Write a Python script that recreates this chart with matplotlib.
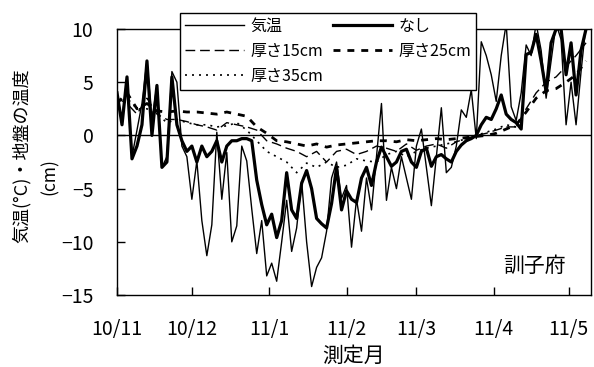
import matplotlib

matplotlib.use("Agg")
import matplotlib.pyplot as plt
import numpy as np

plt.rcParams["font.family"] = ["Noto Sans CJK JP", "DejaVu Sans"]

START = np.datetime64("2010-11-01")

# 気温 and なし, one value every 2 days from 2010-11-01
air = [3.5, 1.5, 5.5, -2.0, 0.5, 3.0, 7.0, 1.5, 4.7, -3.0,
       -2.0, 6.0, 5.0, -1.0, -2.0, -6.0, -2.4, -8.0, -11.3, -8.4,
       0.3, -6.0, -1.6, -10.0, -8.5, -1.0, -2.4, -6.9, -11.1, -8.0,
       -13.2, -12.0, -13.7, -10.0, -6.1, -10.9, -8.7, -4.3, -10.0, -14.2,
       -12.4, -11.5, -9.0, -4.0, -2.5, -5.9, -4.7, -10.5, -6.0, -9.0,
       -4.0, -7.0, -2.0, 3.0, -6.1, -3.0, -5.0, -2.0, -4.0, -6.0,
       -1.0, 0.6, -3.0, -6.6, -2.0, 2.6, -3.5, -3.0, -1.0, 2.4,
       1.7, 4.3, -0.3, 8.8, 7.5, 5.7, 3.2, 7.5, 10.5, 2.7,
       1.4, 4.0, 8.5, 7.5, 10.5, 8.0, 3.5, 7.0, 10.5, 9.0,
       1.0, 5.0, 1.0, 6.0, 10.5]
nashi = [4.0, 1.0, 5.5, -2.2, -1.0, 1.0, 7.0, 0.0, 4.7, -3.0,
         -2.5, 5.5, 1.0, -0.5, -1.5, -1.0, -2.5, -1.0, -2.0, -1.5,
         -0.5, -2.5, -1.0, -0.5, -0.5, -0.3, -0.3, -0.5, -4.2, -6.5,
         -8.4, -7.4, -9.6, -8.0, -3.5, -7.0, -7.8, -4.5, -3.3, -5.0,
         -7.8, -8.3, -8.7, -6.4, -3.0, -7.0, -5.2, -6.0, -6.3, -4.0,
         -3.0, -4.7, -2.5, -1.1, -2.0, -2.9, -2.5, -1.5, -1.3, -2.5,
         -3.0, -1.5, -1.2, -2.9, -2.0, -1.8, -2.2, -2.5, -1.5, -0.9,
         -0.5, -0.3, 0.0, 1.0, 1.7, 1.5, 2.5, 3.8, 2.0, 1.5,
         1.2, 0.6, 7.6, 7.8, 9.5, 7.0, 4.1, 8.7, 10.0, 10.0,
         5.7, 8.7, 3.8, 8.0, 10.0]

# 厚さ15/25/35cm, one value every 4 days from 2010-11-01
d15 = [3.5, 3.0, 2.0, 3.5, 2.0, 1.5, 1.5, 1.3, 1.0, 0.8,
       0.5, 1.2, 1.0, 0.8, 0.5, -0.5, -0.8, -1.2, -1.5, -2.0,
       -1.5, -2.5, -1.5, -1.3, -1.8, -1.5, -1.0, -1.2, -1.5, -0.8,
       -1.4, -1.0, -0.8, -1.2, -0.6, -0.3, 0.0, 0.2, 0.5, 0.8,
       0.8, 2.5, 4.0, 5.0, 5.5, 6.5, 7.5, 8.7]
d25 = [3.0, 4.0, 2.5, 3.0, 2.3, 2.2, 2.3, 2.2, 2.2, 2.1,
       2.0, 2.2, 2.0, 1.8, 0.8, 0.2, -0.5, -0.6, -0.8, -1.0,
       -0.8, -1.1, -0.9, -0.8, -0.7, -0.6, -0.5, -0.5, -0.6, -0.4,
       -0.5, -0.4, -0.3, -0.4, -0.3, -0.2, -0.1, 0.0, 0.2, 0.6,
       1.0, 2.2, 3.5, 4.2, 4.4, 5.0, 5.7, 7.0]
d35 = [3.0, 3.5, 2.5, 2.5, 2.0, 1.2, 1.5, 1.2, 1.0, 1.0,
       0.8, 0.9, 1.2, 0.5, -0.5, -1.5, -2.0, -2.5, -3.5, -2.6,
       -3.0, -2.5, -3.0, -2.8, -2.2, -2.4, -2.5, -1.8, -1.5, -2.0,
       -1.5, -1.2, -1.0, -0.8, -0.6, -0.3, 0.0, 0.3, 0.6, 1.0, 0.8]

month_starts = ["2010-11-01", "2010-12-01", "2011-01-01", "2011-02-01",
                "2011-03-01", "2011-04-01", "2011-05-01"]
month_labels = ["10/11", "10/12", "11/1", "11/2", "11/3", "11/4", "11/5"]


def days(vals, step):
    return START + np.arange(len(vals)) * np.timedelta64(step, "D")


fig = plt.figure(figsize=(5.94, 3.67), dpi=100)
ax = fig.add_axes([0.197, 0.196, 0.798, 0.725])

ax.axhline(0, color="black", lw=1.0, zorder=1)
h_air, = ax.plot(days(air, 2), air, color="black", lw=1.0, label="気温")
h_nashi, = ax.plot(days(nashi, 2), nashi, color="black", lw=2.3, label="なし")
h15, = ax.plot(days(d15, 4), d15, color="black", lw=1.0, dashes=(7, 3.5), label="厚さ15cm")
h25, = ax.plot(days(d25, 4), d25, color="black", lw=2.0, dashes=(2.5, 2.5), label="厚さ25cm")
h35, = ax.plot(days(d35, 4), d35, color="black", lw=1.2, dashes=(1.2, 3), label="厚さ35cm")

ax.set_ylim(-15, 10)
ax.set_xlim(START, START + np.timedelta64(190, "D"))
ax.set_yticks([-15, -10, -5, 0, 5, 10])
ax.set_xticks(np.array(month_starts, dtype="datetime64[D]"))
ax.set_xticklabels(month_labels)
ax.tick_params(direction="in", length=6, width=1, labelsize=14)
ax.tick_params(axis="x", pad=17)
ax.tick_params(axis="y", pad=17)
for s in ax.spines.values():
    s.set_linewidth(1.0)

leg = ax.legend([h_air, h15, h35, h_nashi, h25],
                ["気温", "厚さ15cm", "厚さ35cm", "なし", "厚さ25cm"],
                ncol=2, loc="upper left", bbox_to_anchor=(0.133, 1.06),
                fontsize=11.5, frameon=True, fancybox=False, framealpha=1,
                edgecolor="black", handlelength=3.7, handletextpad=0.4,
                columnspacing=0.6, labelspacing=0.5, borderpad=0.3,
                borderaxespad=0)
leg.get_frame().set_linewidth(1.0)

ax.text(0.88, 0.11, "訓子府", transform=ax.transAxes, fontsize=15,
        ha="center", va="center")
ax.set_xlabel("測定月", fontsize=15, labelpad=4)
fig.text(0.037, 0.575, "気温(°C)・地盤の温度", rotation=90, fontsize=13,
         ha="center", va="center")
fig.text(0.083, 0.52, "(cm)", rotation=90, fontsize=12.5,
         ha="center", va="center")

fig.savefig("out.png", dpi=100)
